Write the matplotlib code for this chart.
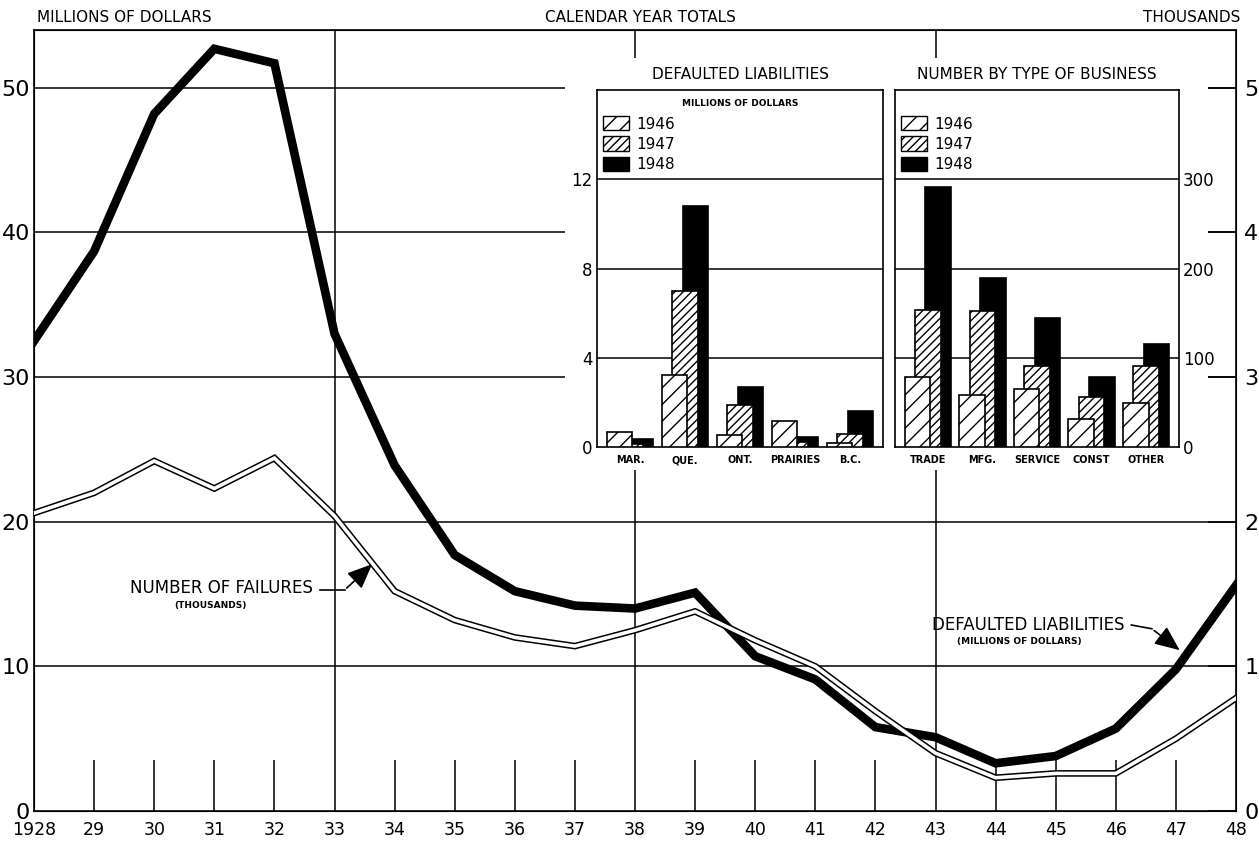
import matplotlib
matplotlib.use("Agg")
import matplotlib.pyplot as plt
from matplotlib.patches import Patch, Rectangle

# main chart: calendar year totals
years = list(range(1928, 1949))
year_labels = ["1928"] + [str(y)[2:] for y in years[1:]]
liabilities = [32.5, 38.7, 48.2, 52.7, 51.7, 33.0, 23.9, 17.7, 15.2, 14.2,
               14.0, 15.1, 10.7, 9.1, 5.8, 5.1, 3.3, 3.8, 5.7, 9.8, 15.6]
failures = [2.06, 2.20, 2.42, 2.23, 2.44, 2.04, 1.52, 1.32, 1.20, 1.14,
            1.25, 1.38, 1.18, 1.00, 0.69, 0.40, 0.23, 0.26, 0.26, 0.50, 0.78]

# inset: defaulted liabilities by region (millions of dollars)
regions = ["MAR.", "QUE.", "ONT.", "PRAIRIES", "B.C."]
reg_1946 = [0.67, 3.23, 0.52, 1.15, 0.18]
reg_1947 = [0.15, 6.97, 1.89, 0.22, 0.60]
reg_1948 = [0.37, 10.79, 2.71, 0.45, 1.61]

# inset: number of failures by type of business
business = ["TRADE", "MFG.", "SERVICE", "CONST", "OTHER"]
bus_1946 = [78, 58, 65, 31, 49]
bus_1947 = [154, 152, 91, 56, 91]
bus_1948 = [291, 189, 144, 78, 115]

W, H = 1259, 842
fig = plt.figure(figsize=(W / 100, H / 100), dpi=100)


def fx(px):
    return px / W


def fy(py):
    return 1 - py / H


ax = fig.add_axes([fx(34), fy(811), fx(1236) - fx(34), fy(30) - fy(811)])
ax.set_xlim(1928, 1948)
ax.set_ylim(0, 54)
for s in ax.spines.values():
    s.set_linewidth(1.2)

for v in [10, 20, 30, 40, 50]:
    ax.axhline(v, color="black", lw=1.1, zorder=1)
for x in [1933, 1938, 1943]:
    ax.axvline(x, color="black", lw=1.1, zorder=1)
minor_years = [y for y in years if y not in (1928, 1933, 1938, 1943, 1948)]
ax.vlines(minor_years, 0, 3.5, color="black", lw=1.1, zorder=1)

ax.plot(years, liabilities, color="black", lw=6.2, solid_joinstyle="miter", zorder=4)

ax.set_xticks(years)
ax.set_xticklabels(year_labels, fontsize=12.5)
ax.set_yticks([0, 10, 20, 30, 40, 50])
ax.tick_params(axis="both", length=0)
ax.tick_params(axis="y", labelsize=16, pad=3)
ax.tick_params(axis="x", pad=7)

ax2 = ax.twinx()
ax2.set_ylim(0, 5.4)
ax2.set_yticks([0, 1, 2, 3, 4, 5])
ax2.tick_params(axis="y", direction="in", length=20, width=1.1, labelsize=16, pad=6)
ax2.plot(years, failures, color="black", lw=4.8, solid_joinstyle="miter", zorder=3)
ax2.plot(years, failures, color="white", lw=2.6, solid_joinstyle="miter", zorder=3)

# annotations
arrow = dict(arrowstyle="-|>,head_length=0.7,head_width=0.3", color="black",
             lw=1.2, mutation_scale=22)
ax.text(1932.64, 15.4, "NUMBER OF FAILURES", fontsize=12, ha="right", va="center")
ax.text(1930.93, 14.2, "(THOUSANDS)", fontsize=6.5, fontweight="bold", ha="center", va="center")
ax.plot([1932.76, 1933.17], [15.28, 15.28], color="black", lw=1.2)
ax.annotate("", xy=(1933.66, 17.2), xytext=(1933.17, 15.28), arrowprops=arrow)

ax.text(1946.15, 12.86, "DEFAULTED LIABILITIES", fontsize=12, ha="right", va="center")
ax.text(1944.4, 11.7, "(MILLIONS OF DOLLARS)", fontsize=6.5, fontweight="bold", ha="center", va="center")
ax.plot([1946.26, 1946.6], [12.86, 12.6], color="black", lw=1.2)
ax.annotate("", xy=(1947.1, 11.0), xytext=(1946.6, 12.6), arrowprops=arrow)

fig.text(fx(37), fy(17), "MILLIONS OF DOLLARS", fontsize=11, va="center", ha="left")
fig.text(fx(640), fy(17), "CALENDAR YEAR TOTALS", fontsize=11, va="center", ha="center")
fig.text(fx(1240), fy(17), "THOUSANDS", fontsize=11, va="center", ha="right")

# white backing behind the insets
fig.add_artist(Rectangle((fx(565), fy(470)), fx(1208) - fx(565), fy(58) - fy(470),
                         transform=fig.transFigure, facecolor="white",
                         edgecolor="none", zorder=1))

offsets = [-0.19, 0.0, 0.19]
styles = [dict(facecolor="white", hatch="//", zorder=5),
          dict(facecolor="white", hatch="////", zorder=4),
          dict(facecolor="black", hatch=None, zorder=3)]
legend_labels = ["1946", "1947", "1948"]


def draw_inset(rect, cats, series, ymax, ticks, title, side):
    a = fig.add_axes(rect)
    a.set_zorder(2)
    a.set_facecolor("white")
    pos = list(range(len(cats)))
    for vals, off, st in zip(series, offsets, styles):
        a.bar([p + off for p in pos], vals, width=0.47, edgecolor="black",
              linewidth=1.2, **st)
    for t in ticks[1:]:
        a.axhline(t, color="black", lw=1.1, zorder=1)
    a.set_xlim(-0.6, len(cats) - 0.4)
    a.set_ylim(0, ymax)
    a.set_xticks(pos)
    a.set_xticklabels(cats, fontsize=7, fontweight="bold")
    a.set_yticks(ticks)
    a.tick_params(length=0)
    a.tick_params(axis="x", pad=6)
    a.tick_params(axis="y", labelsize=12, pad=3)
    if side == "right":
        a.yaxis.tick_right()
    for s in a.spines.values():
        s.set_linewidth(1.2)
    a.set_title(title, fontsize=11, pad=8)
    handles = [Patch(edgecolor="black", linewidth=1.0, **{k: v for k, v in st.items() if k != "zorder"})
               for st in styles]
    a.legend(handles, legend_labels, loc="upper left", bbox_to_anchor=(0.01, 0.935),
             frameon=False, fontsize=11, handlelength=1.7, handleheight=1.05,
             labelspacing=0.32, handletextpad=0.5, borderaxespad=0, borderpad=0.2)
    return a


left_ax = draw_inset([fx(597), fy(447), fx(883) - fx(597), fy(90) - fy(447)],
                     regions, [reg_1946, reg_1947, reg_1948], 16, [0, 4, 8, 12],
                     "DEFAULTED LIABILITIES", "left")
left_ax.text(0.5, 0.975, "MILLIONS OF DOLLARS", transform=left_ax.transAxes,
             fontsize=6.5, fontweight="bold", ha="center", va="top")
draw_inset([fx(895), fy(447), fx(1179) - fx(895), fy(90) - fy(447)],
           business, [bus_1946, bus_1947, bus_1948], 400, [0, 100, 200, 300],
           "NUMBER BY TYPE OF BUSINESS", "right")

fig.savefig("out.png", dpi=100)
